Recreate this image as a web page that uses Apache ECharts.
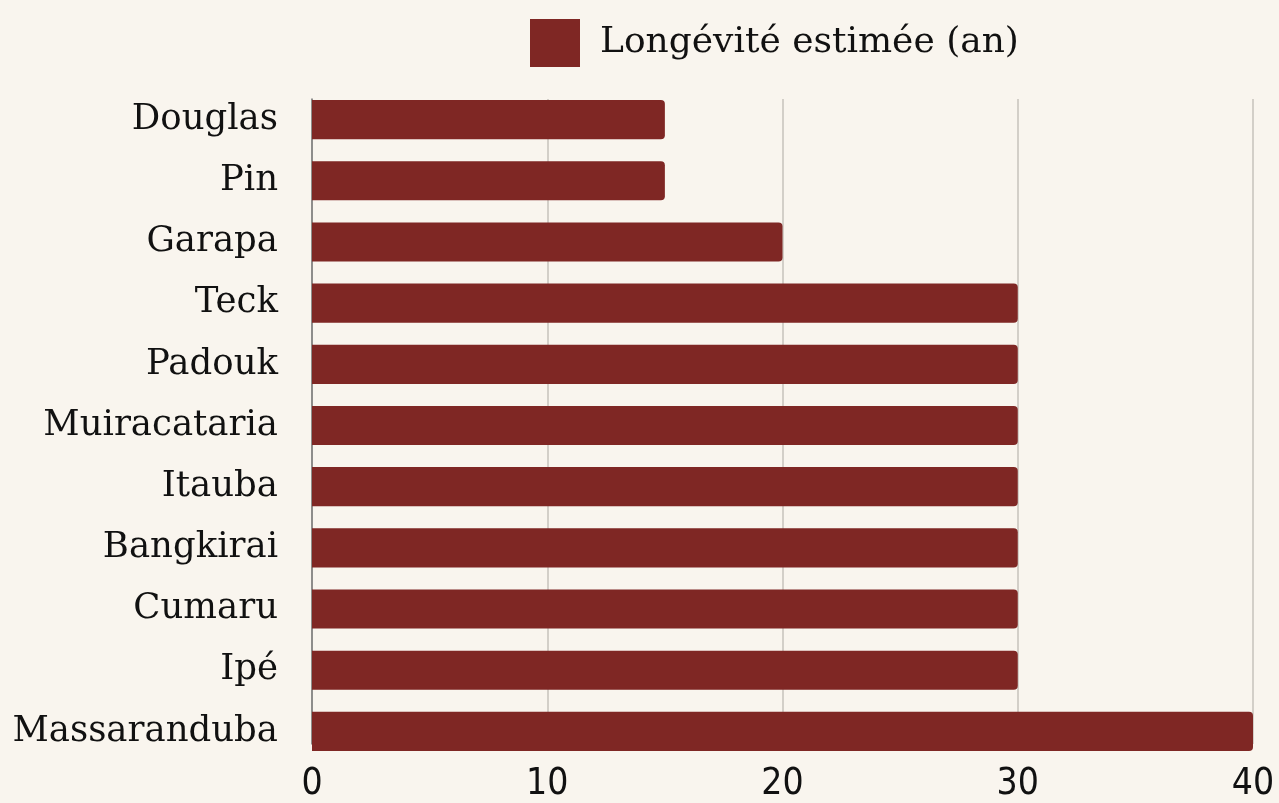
<!DOCTYPE html>
<html><head><meta charset="utf-8">
<script src="https://cdn.jsdelivr.net/npm/echarts@6/dist/echarts.min.js"></script>
<style>html,body{margin:0;padding:0;background:#f9f5ee}#c{width:1279px;height:803px}</style>
</head><body><div id="c"></div>
<script>
const categories = ['Douglas','Pin','Garapa','Teck','Padouk','Muiracataria','Itauba','Bangkirai','Cumaru','Ipé','Massaranduba'];
const longevity = [15,15,20,30,30,30,30,30,30,30,40];
const seriesName = 'Longévité estimée (an)';
const xTicks = [0,10,20,30,40];
const font = '"DejaVu Serif", serif';
const narrow = '"Liberation Sans Narrow", "DejaVu Sans Condensed", sans-serif';
const chart = echarts.init(document.getElementById('c'));
chart.setOption({
  backgroundColor:'#f9f5ee',
  animation:false,
  legend:{top:14,left:525,icon:'rect',itemWidth:50,itemHeight:48,itemGap:20,
    textStyle:{fontFamily:font,fontSize:36,color:'#111',padding:[0,0,0,15]},
    data:[seriesName]},
  grid:[
    {left:312,right:26,top:89,bottom:41},
    {left:312,right:26,top:99,bottom:52}
  ],
  xAxis:[
    {gridIndex:0,type:'value',min:xTicks[0],max:xTicks[xTicks.length-1],interval:10,show:false,
      splitLine:{show:false}},
    {gridIndex:1,type:'value',min:xTicks[0],max:xTicks[xTicks.length-1],interval:10,
      axisLine:{show:false},axisTick:{show:false},
      splitLine:{lineStyle:{color:'#c6c2bb',width:1.5}},
      axisLabel:{fontFamily:narrow,fontSize:37,color:'#111',margin:22}}
  ],
  yAxis:[
    {gridIndex:0,type:'category',inverse:true,data:categories,
      axisLine:{show:false},axisTick:{show:false},splitLine:{show:false},
      axisLabel:{fontFamily:font,fontSize:35.5,color:'#111',margin:34}},
    {gridIndex:1,type:'value',min:0,max:1,
      axisLine:{show:true,lineStyle:{color:'#777',width:1.5}},axisTick:{show:false},
      axisLabel:{show:false},splitLine:{show:false}}
  ],
  series:[{name:seriesName,type:'bar',xAxisIndex:0,yAxisIndex:0,data:longevity,barWidth:'64%',z:3,
    itemStyle:{color:'#7f2724',borderRadius:[0,4,4,0]}}]
});
</script></body></html>
